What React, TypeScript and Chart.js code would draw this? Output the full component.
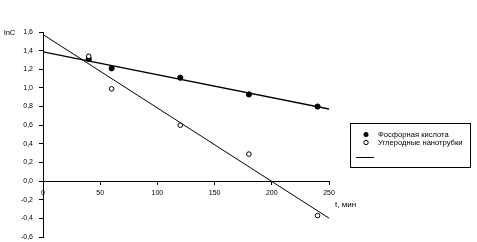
import React, { useEffect, useRef } from 'react';
import { Chart, registerables } from 'chart.js';

Chart.register(...registerables);

// Data
const phosphoricT = [40, 60, 120, 180, 240];
const phosphoricLnC = [1.31, 1.21, 1.11, 0.93, 0.8];
const nanotubeT = [40, 60, 120, 180, 240];
const nanotubeLnC = [1.34, 0.99, 0.6, 0.29, -0.37];
const fitPhosphoricT = [0, 250];
const fitPhosphoricLnC = [1.387, 0.774];
const fitNanotubeT = [0, 250];
const fitNanotubeLnC = [1.573, -0.398];
const legendLabels = ['Фосфорная кислота', 'Углеродные нанотрубки', ''];
const yAxisTitle = 'lnC';
const xAxisTitle = 't, мин';

const FONT = 'Liberation Sans, Arial, sans-serif';

const toPoints = (xs: number[], ys: number[]) => xs.map((x, i) => ({ x, y: ys[i] }));

const annotations = {
  id: 'annotations',
  afterDraw(chart: any) {
    const ctx = chart.ctx as CanvasRenderingContext2D;
    ctx.save();
    ctx.fillStyle = '#000';
    ctx.strokeStyle = '#000';
    ctx.textBaseline = 'middle';
    ctx.textAlign = 'left';
    ctx.font = `7.5px ${FONT}`;
    ctx.fillText(yAxisTitle, 4, 33);
    ctx.font = `8px ${FONT}`;
    ctx.fillText(xAxisTitle, 335, 205);

    // legend box
    ctx.lineWidth = 1;
    ctx.strokeRect(350.5, 123.5, 120, 44);
    ctx.font = `7.6px ${FONT}`;
    // filled dot
    ctx.beginPath();
    ctx.arc(366, 134.5, 2.5, 0, Math.PI * 2);
    ctx.fill();
    ctx.fillText(legendLabels[0], 378, 134.5);
    // open circle
    ctx.beginPath();
    ctx.arc(366, 142.5, 2.2, 0, Math.PI * 2);
    ctx.fillStyle = '#fff';
    ctx.fill();
    ctx.stroke();
    ctx.fillStyle = '#000';
    ctx.fillText(legendLabels[1], 378, 142.5);
    // line
    ctx.beginPath();
    ctx.moveTo(356, 157.5);
    ctx.lineTo(374, 157.5);
    ctx.stroke();
    ctx.fillText(legendLabels[2], 378, 157.5);
    ctx.restore();
  },
};

export default function App() {
  const ref = useRef<HTMLCanvasElement | null>(null);

  useEffect(() => {
    if (!ref.current) return;
    const chart = new Chart(ref.current, {
      type: 'scatter',
      data: {
        datasets: [
          {
            label: legendLabels[0],
            data: toPoints(phosphoricT, phosphoricLnC),
            pointRadius: 2.6,
            pointBackgroundColor: '#000',
            pointBorderColor: '#000',
            pointBorderWidth: 1,
            showLine: false,
            order: 1,
          },
          {
            label: legendLabels[1],
            data: toPoints(nanotubeT, nanotubeLnC),
            pointRadius: 2.3,
            pointBackgroundColor: '#fff',
            pointBorderColor: '#000',
            pointBorderWidth: 1,
            showLine: false,
            order: 0,
          },
          {
            label: 'fit1',
            data: toPoints(fitPhosphoricT, fitPhosphoricLnC),
            showLine: true,
            borderColor: '#000',
            borderWidth: 1.4,
            pointRadius: 0,
            order: 2,
          },
          {
            label: 'fit2',
            data: toPoints(fitNanotubeT, fitNanotubeLnC),
            showLine: true,
            borderColor: '#000',
            borderWidth: 1,
            pointRadius: 0,
            order: 2,
          },
        ],
      },
      options: {
        responsive: false,
        animation: false,
        layout: { padding: { left: 0, top: 32, right: 148, bottom: 5 } },
        plugins: { legend: { display: false }, tooltip: { enabled: false } },
        scales: {
          x: {
            type: 'linear',
            position: { y: 0 } as any,
            min: 0,
            max: 250,
            afterFit: (scale: any) => {
              scale.height = 0;
            },
            ticks: {
              stepSize: 50,
              color: '#000',
              font: { family: FONT, size: 7 },
              padding: 5,
              maxRotation: 0,
            },
            grid: { drawOnChartArea: false, drawTicks: true, tickLength: 3, color: '#000' },
            border: { display: true, color: '#000', width: 1 },
          },
          y: {
            type: 'linear',
            position: 'left',
            min: -0.6,
            max: 1.6,
            afterFit: (scale: any) => {
              scale.width = 43;
              scale.paddingTop = 4;
              scale.paddingBottom = 4;
            },
            ticks: {
              stepSize: 0.2,
              color: '#000',
              font: { family: FONT, size: 7 },
              padding: 6,
              callback: (v: any) => {
                const s = Number(v).toFixed(1).replace('.', ',');
                return s === '-0,0' ? '0,0' : s;
              },
            },
            grid: { drawOnChartArea: false, drawTicks: true, tickLength: 4, color: '#000' },
            border: { display: true, color: '#000', width: 1 },
          },
        },
      },
      plugins: [annotations],
    });
    return () => chart.destroy();
  }, []);

  return (
    <div style={{ position: 'fixed', left: 0, top: 0, width: 477, height: 242, background: '#fff' }}>
      <canvas ref={ref} width={477} height={242} />
    </div>
  );
}
